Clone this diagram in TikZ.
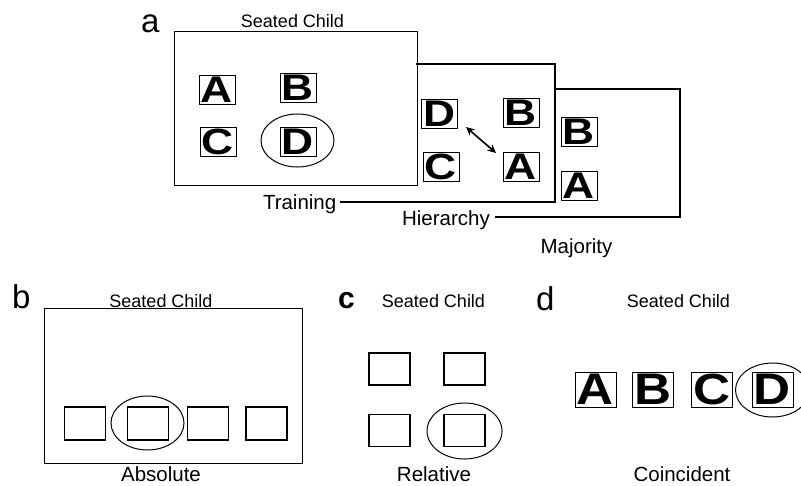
\documentclass[tikz,border=0pt]{standalone}
\usepackage{fontspec}
\setmainfont{Liberation Sans}
\usepackage{graphicx}
\usetikzlibrary{shapes.geometric,arrows.meta}
\newcommand\lettS[1]{\resizebox{32pt}{25.5pt}{\bfseries #1}}
\newcommand\lettL[1]{\resizebox{37pt}{30.5pt}{\bfseries #1}}
\begin{document}
\begin{tikzpicture}[x=1pt,y=-1pt,
 frame/.style={draw, line width=1.4pt},
 lbox/.style={draw, line width=1pt, inner sep=0pt, minimum width=36pt, minimum height=29pt},
 bigbox/.style={draw, line width=1pt, inner sep=0pt, minimum width=41pt, minimum height=35pt},
 ebox/.style={draw, line width=1.5pt, inner sep=0pt, minimum width=41pt, minimum height=33pt},
 oval/.style={draw, ellipse, line width=1pt, inner sep=0pt},
 seat/.style={font=\fontsize{18}{20}\selectfont, inner sep=0pt},
 captext/.style={font=\fontsize{20.5}{24}\selectfont, inner sep=0pt},
 plabel/.style={font=\fontsize{33}{36}\selectfont, inner sep=0pt, anchor=base west},
]
\useasboundingbox (0,0) rectangle (801,485);
\clip (0,0) rectangle (801,485);
\fill[white] (0,0) rectangle (801,485);

% ---------- panel a ----------
\node[plabel] (la) at (141,32) {a};
\node[seat, anchor=base] (sa) at (292.5,27) {Seated Child};
\node[frame, minimum width=243pt, minimum height=154pt, inner sep=0pt, anchor=north west] (train) at (174,31) {};

\node[lbox] (tA) at (217,89.5) {\lettS{A}};
\node[lbox] (tB) at (298,87.5) {\lettS{B}};
\node[lbox] (tC) at (218,142) {\lettS{C}};
\node[lbox] (tD) at (298,142) {\lettS{D}};
\node[oval, minimum width=73pt, minimum height=53pt] (eD) at (297.5,140.5) {};

\node[captext, anchor=base east] (tTrain) at (336.5,209) {Training};
\draw[frame] ([xshift=3.5pt,yshift=7pt]tTrain.base east) -- (555,202) -- (555,64) -- (416.3,64);

\node[lbox] (hD) at (439.5,114) {\lettS{D}};
\node[lbox] (hB) at (521,112.5) {\lettS{B}};
\node[lbox] (hC) at (441,167) {\lettS{C}};
\node[lbox] (hA) at (521,167) {\lettS{A}};
\coordinate (ar1) at (466,127);
\coordinate (ar2) at (496,153);
\draw[{Stealth[length=8.5pt,width=8pt]}-{Stealth[length=8.5pt,width=8pt]}, line width=1.6pt] (ar1) -- (ar2);

\node[captext, anchor=base east] (tHier) at (490,225) {Hierarchy};
\draw[frame] ([xshift=4.5pt,yshift=8pt]tHier.base east) -- (680,217) -- (680,89) -- (555,89);

\node[lbox] (mB) at (579,131.5) {\lettS{B}};
\node[lbox] (mA) at (579,186) {\lettS{A}};
\node[captext, anchor=base] (tMaj) at (576.5,253) {Majority};

% ---------- panel b ----------
\node[plabel] (lb) at (12,308) {b};
\node[seat, anchor=base] (sb) at (161,307) {Seated Child};
\node[frame, minimum width=258pt, minimum height=155pt, inner sep=0pt, anchor=north west] (absf) at (44,308) {};
\node[ebox] (b1) at (85,423.5) {};
\node[ebox] (b2) at (148,423.5) {};
\node[ebox] (b3) at (208,423.5) {};
\node[ebox] (b4) at (266.5,423.5) {};
\node[oval, minimum width=73pt, minimum height=54pt] (eb) at (147.5,423) {};
\node[captext, anchor=base] (tAbs) at (161,481.5) {Absolute};

% ---------- panel c ----------
\node[plabel, font=\bfseries\fontsize{30}{32}\selectfont] (lc) at (338,308) {c};
\node[seat, anchor=base] (sc) at (433.5,307) {Seated Child};
\node[ebox, minimum height=32pt] (c1) at (389.5,369) {};
\node[ebox, minimum height=32pt] (c2) at (464.5,369) {};
\node[ebox, minimum height=32pt] (c3) at (389.5,430.5) {};
\node[ebox, minimum height=32pt] (c4) at (464.5,430.5) {};
\node[oval, minimum width=75pt, minimum height=56pt] (ec) at (464.5,431) {};
\node[captext, anchor=base] (tRel) at (434,481.5) {Relative};

% ---------- panel d ----------
\node[plabel] (ld) at (536,310) {d};
\node[seat, anchor=base] (sd) at (678.5,307) {Seated Child};
\node[bigbox] (dA) at (595.5,389.5) {\lettL{A}};
\node[bigbox] (dB) at (653,389.5) {\lettL{B}};
\node[bigbox] (dC) at (712,389.5) {\lettL{C}};
\node[bigbox] (dD) at (772.5,389.5) {\lettL{D}};
\node[oval, minimum width=74pt, minimum height=54pt] (ed) at (772.5,390) {};
\node[captext, anchor=base] (tCoin) at (682,481.5) {Coincident};
\end{tikzpicture}
\end{document}
